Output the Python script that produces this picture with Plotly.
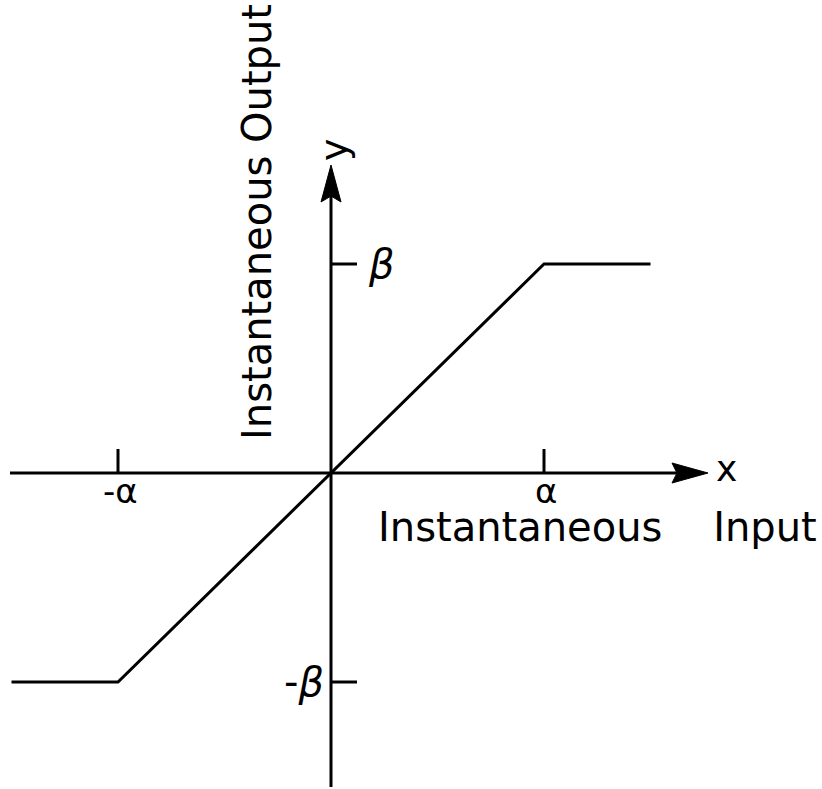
import plotly.graph_objects as go

# Saturation characteristic: output follows input up to +/-alpha, then clips at +/-beta
input_x = [-1.5, -1.0, 1.0, 1.5]
output_y = [-1.0, -1.0, 1.0, 1.0]

x_tick_vals = [-1.0, 1.0]
x_tick_text = ["-α", "α"]
y_tick_vals = [1.0, -1.0]
y_tick_text = ["<i>β</i>", "-<i>β</i>"]

W, H = 822, 789
OX, OY = 331, 473          # origin in pixels
SX, SY = 213.0, 209.0      # pixels per unit


def X(px):
    return (px - OX) / SX


def Y(py):
    return (OY - py) / SY


FONT = "DejaVu Sans"
LW = 3
INK = "black"

fig = go.Figure()

# transfer curve
fig.add_trace(go.Scatter(x=input_x, y=output_y, mode="lines",
                         line=dict(color=INK, width=LW), hoverinfo="skip",
                         showlegend=False))

shapes = []
# horizontal axis
shapes.append(dict(type="line", x0=X(10), y0=0, x1=X(690), y1=0,
                   line=dict(color=INK, width=LW)))
# vertical axis
shapes.append(dict(type="line", x0=0, y0=Y(190), x1=0, y1=Y(787),
                   line=dict(color=INK, width=LW)))
# arrowheads
shapes.append(dict(type="path", xsizemode="pixel", ysizemode="pixel",
                   xanchor=X(708), yanchor=0,
                   path="M 0 0 L -36 10 L -31 0 L -36 -10 Z",
                   fillcolor=INK, line=dict(color=INK, width=1)))
shapes.append(dict(type="path", xsizemode="pixel", ysizemode="pixel",
                   xanchor=0, yanchor=Y(165),
                   path="M 0 0 L -10 -37 L 0 -31 L 10 -37 Z",
                   fillcolor=INK, line=dict(color=INK, width=1)))
# tick marks on x axis (upward)
for xv in x_tick_vals:
    shapes.append(dict(type="line", x0=xv, y0=0, x1=xv, y1=24 / SY,
                       line=dict(color=INK, width=LW)))
# tick marks on y axis (to the right)
for yv in y_tick_vals:
    shapes.append(dict(type="line", x0=0, y0=yv, x1=26 / SX, y1=yv,
                       line=dict(color=INK, width=LW)))

annotations = []
# x tick labels below the axis
for xv, t in zip(x_tick_vals, x_tick_text):
    annotations.append(dict(x=xv + 2 / SX, y=Y(491), text=t, showarrow=False,
                            xanchor="center", yanchor="middle",
                            font=dict(family=FONT, size=34, color=INK)))
# y tick labels
annotations.append(dict(x=X(366), y=y_tick_vals[0], text=y_tick_text[0],
                        showarrow=False, xanchor="left", yanchor="middle",
                        font=dict(family=FONT, size=40, color=INK)))
annotations.append(dict(x=X(326), y=y_tick_vals[1], text=y_tick_text[1],
                        showarrow=False, xanchor="right", yanchor="middle",
                        font=dict(family=FONT, size=40, color=INK)))
# axis letters
annotations.append(dict(x=X(714), y=Y(468), text="x", showarrow=False,
                        xanchor="left", yanchor="middle",
                        font=dict(family=FONT, size=36, color=INK)))
annotations.append(dict(x=X(334), y=Y(150), text="y", showarrow=False,
                        textangle=-90, xanchor="center", yanchor="middle",
                        font=dict(family=FONT, size=38, color=INK)))
# axis titles
annotations.append(dict(x=X(376), y=Y(527), text="Instantaneous\u00a0\u00a0\u00a0 Input",
                        showarrow=False, xanchor="left", yanchor="middle",
                        height=44,
                        font=dict(family=FONT, size=40, color=INK)))
annotations.append(dict(x=X(257), y=Y(442), text="Instantaneous Output",
                        showarrow=False, textangle=-90,
                        xanchor="center", yanchor="bottom",
                        font=dict(family=FONT, size=40, color=INK)))

fig.update_layout(
    width=W, height=H,
    margin=dict(l=0, r=0, t=0, b=0),
    paper_bgcolor="white", plot_bgcolor="white",
    xaxis=dict(range=[X(0), X(W)], visible=False, fixedrange=True),
    yaxis=dict(range=[Y(H), Y(0)], visible=False, fixedrange=True),
    shapes=shapes, annotations=annotations,
    showlegend=False,
)

fig.write_html("out.html")
